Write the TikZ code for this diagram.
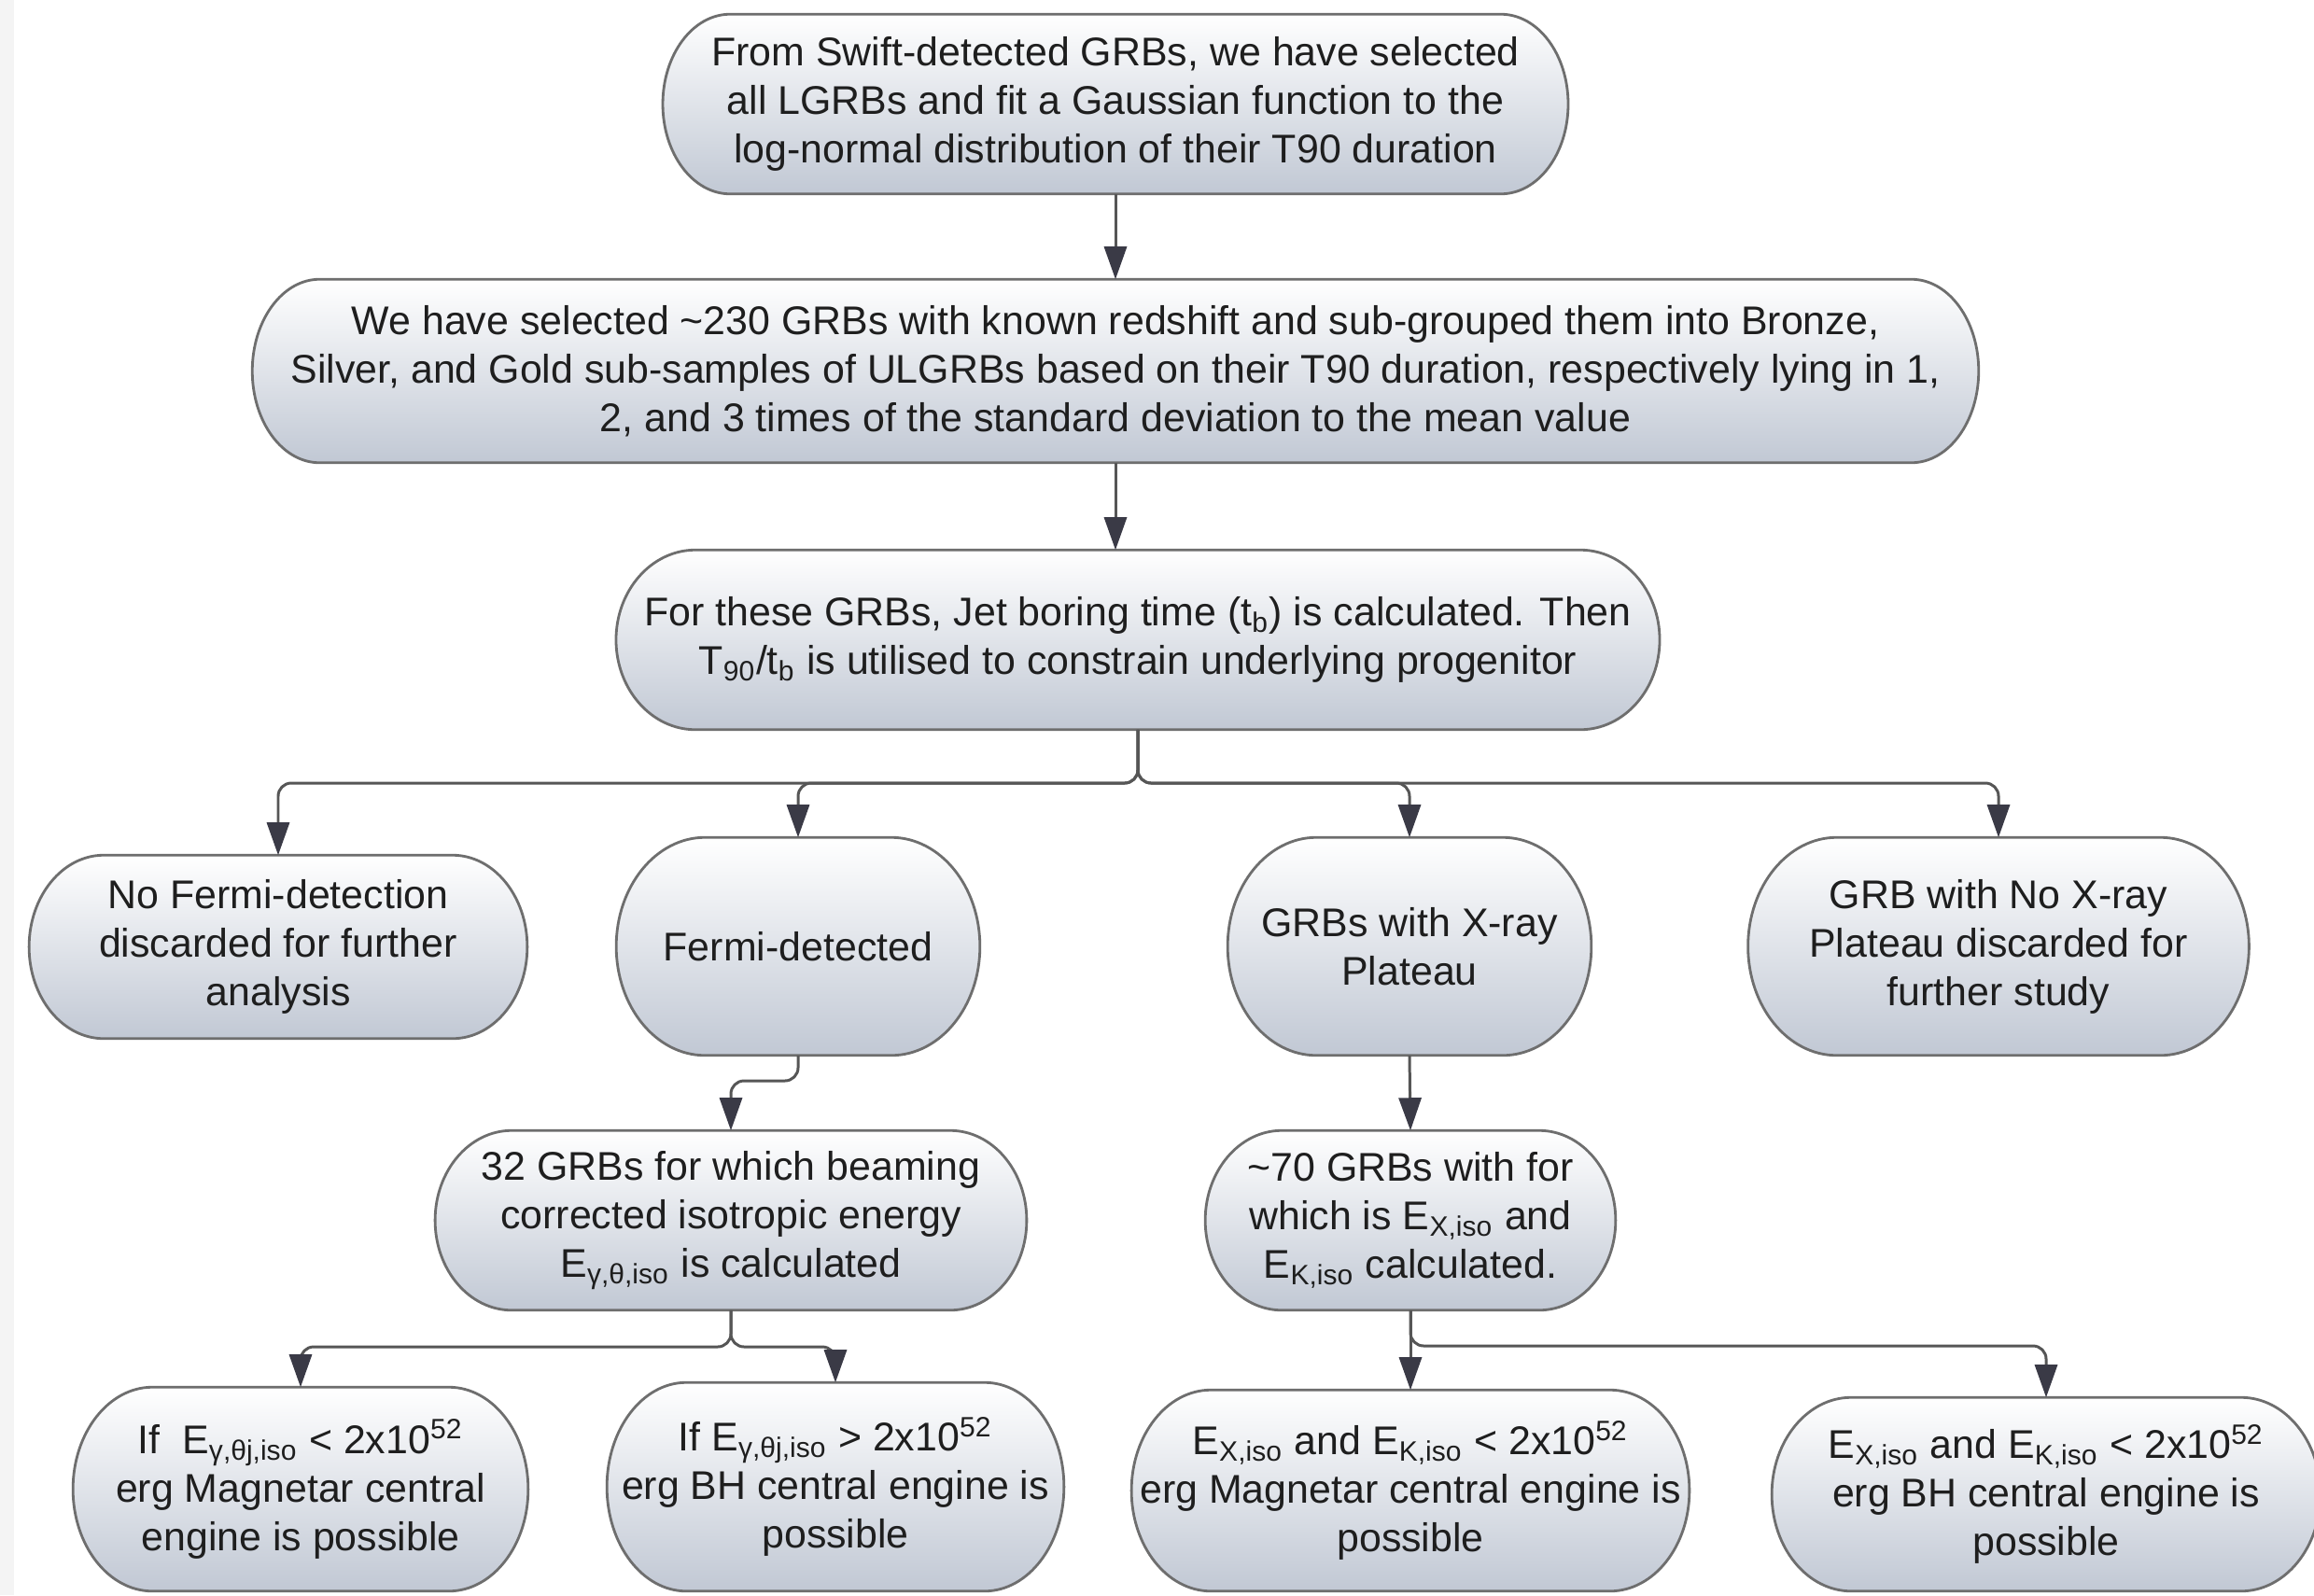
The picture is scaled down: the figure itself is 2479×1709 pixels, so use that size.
\documentclass[tikz,border=0pt]{standalone}
\usepackage{fontspec}
\setmainfont{Liberation Sans}
\usetikzlibrary{arrows.meta,calc,backgrounds}
\definecolor{bordercol}{HTML}{6E6E6E}
\definecolor{linecol}{HTML}{565656}
\definecolor{tipcol}{HTML}{3A3A46}
\definecolor{txtcol}{HTML}{1E1E1E}
\definecolor{fillbot}{RGB}{193,200,212}
\definecolor{fillmid}{RGB}{234,236,240}
\definecolor{stripcol}{HTML}{F4F4F4}
\tikzset{
  box/.style={inner sep=0pt, align=center, text=txtcol, font=\fontsize{12.2}{14.8}\selectfont},
  termpath/.style={draw=bordercol, line width=0.8pt, top color=white, middle color=fillmid, bottom color=fillbot},
  conn/.style={draw=linecol, line width=0.85pt, rounded corners=4pt,
     -{Triangle[length=0.35cm,width=0.24cm,fill=tipcol,color=tipcol]}},
  plain/.style={draw=linecol, line width=0.85pt, rounded corners=4pt}
}
\newcommand\termshape[2]{%
  \path[termpath] let \p1=(#1.north west), \p2=(#1.south east), \n1={0.5*(\y1-\y2)} in
   (\x1+#2,\y1) -- (\x2-#2,\y1) arc[start angle=90,end angle=-90,x radius=#2,y radius=\n1]
   -- (\x1+#2,\y2) arc[start angle=270,end angle=90,x radius=#2,y radius=\n1] -- cycle;}
\begin{document}
\begin{tikzpicture}[x=0.01cm,y=-0.01cm]
\useasboundingbox (0,0) rectangle (2479,1709);
% nodes
\node[box, minimum width=9.68cm, minimum height=1.91cm] (n1) at (1195,111.5)
  {From Swift-detected GRBs, we have selected\\all LGRBs and fit a Gaussian function to the\\log-normal distribution of their T90 duration};
\node[box, minimum width=18.47cm, minimum height=1.95cm] (n2) at (1195,397.5)
  {We have selected \textasciitilde230 GRBs with known redshift and sub-grouped them into Bronze,\\Silver, and Gold sub-samples of ULGRBs based on their T90 duration, respectively lying in 1,\\2, and 3 times of the standard deviation to the mean value};
\node[box, minimum width=11.16cm, minimum height=1.91cm] (n3) at (1219,685.5)
  {For these GRBs, Jet boring time (t\textsubscript{b}) is calculated. Then\\T\textsubscript{90}/t\textsubscript{b} is utilised to constrain underlying progenitor};
\node[box, minimum width=5.32cm, minimum height=1.95cm] (A) at (298,1014.5)
  {No Fermi-detection\\discarded for further\\analysis};
\node[box, minimum width=3.88cm, minimum height=2.32cm] (B) at (855,1014)
  {Fermi-detected};
\node[box, minimum width=3.88cm, minimum height=2.32cm] (C) at (1510,1014)
  {GRBs with X-ray\\Plateau};
\node[box, minimum width=5.35cm, minimum height=2.32cm] (D) at (2141,1014)
  {GRB with No X-ray\\Plateau discarded for\\further study};
\node[box, minimum width=6.32cm, minimum height=1.91cm] (E) at (783,1307.5)
  {32 GRBs for which beaming\\corrected isotropic energy\\E\textsubscript{γ,θ,iso} is calculated};
\node[box, minimum width=4.38cm, minimum height=1.91cm] (F) at (1511,1307.5)
  {\textasciitilde70 GRBs with for\\which is E\textsubscript{X,iso} and\\E\textsubscript{K,iso} calculated.};
\node[box, minimum width=4.86cm, minimum height=2.17cm] (G) at (322,1595.5)
  {If\ \ E\textsubscript{γ,θj,iso} < 2x10\textsuperscript{52}\\erg Magnetar central\\engine is possible};
\node[box, minimum width=4.88cm, minimum height=2.22cm] (H) at (895,1593)
  {If E\textsubscript{γ,θj,iso} > 2x10\textsuperscript{52}\\erg BH central engine is\\possible};
\node[box, minimum width=5.96cm, minimum height=2.14cm] (I) at (1511,1597)
  {E\textsubscript{X,iso} and E\textsubscript{K,iso} < 2x10\textsuperscript{52}\\erg Magnetar central engine is\\possible};
\node[box, minimum width=5.86cm, minimum height=2.06cm] (J) at (2192,1601)
  {E\textsubscript{X,iso} and E\textsubscript{K,iso} < 2x10\textsuperscript{52}\\erg BH central engine is\\possible};
% shapes
\begin{pgfonlayer}{background}
\fill[white] (0,0) rectangle (2479,1709);
\fill[stripcol] (0,0) rectangle (15,1709);
\termshape{n1}{0.72cm}
\termshape{n2}{0.72cm}
\termshape{n3}{0.85cm}
\termshape{A}{0.8cm}
\termshape{B}{0.95cm}
\termshape{C}{0.95cm}
\termshape{D}{0.95cm}
\termshape{E}{0.82cm}
\termshape{F}{0.82cm}
\termshape{G}{0.85cm}
\termshape{H}{0.85cm}
\termshape{I}{0.85cm}
\termshape{J}{0.85cm}
\end{pgfonlayer}
% junction coordinates
\coordinate (bus3) at (1219,839);
\coordinate (stepB) at (855,1158);
\coordinate (busE) at (783,1443);
\coordinate (busF) at (1511,1442);
% connectors
\draw[conn] (n1.south) -- (n2.north);
\draw[conn] (n2.south) -- (n2.south |- n3.north);
\draw[conn] (n3.south) -- (n3.south |- bus3) -| (A.north);
\draw[conn] (n3.south) -- (n3.south |- bus3) -| (B.north);
\draw[conn] (n3.south) -- (n3.south |- bus3) -| (C.north);
\draw[conn] (n3.south) -- (n3.south |- bus3) -| (D.north);
\draw[conn] (B.south) -- (stepB) -| (E.north);
\draw[conn] (C.south) -- (F.north);
\draw[conn] (E.south) -- (busE) -| (G.north);
\draw[conn] (E.south) -- (busE) -| (H.north);
\draw[conn] (F.south) -- (busF) -| (I.north);
\draw[conn] (F.south) -- (busF) -| (J.north);
\end{tikzpicture}
\end{document}
